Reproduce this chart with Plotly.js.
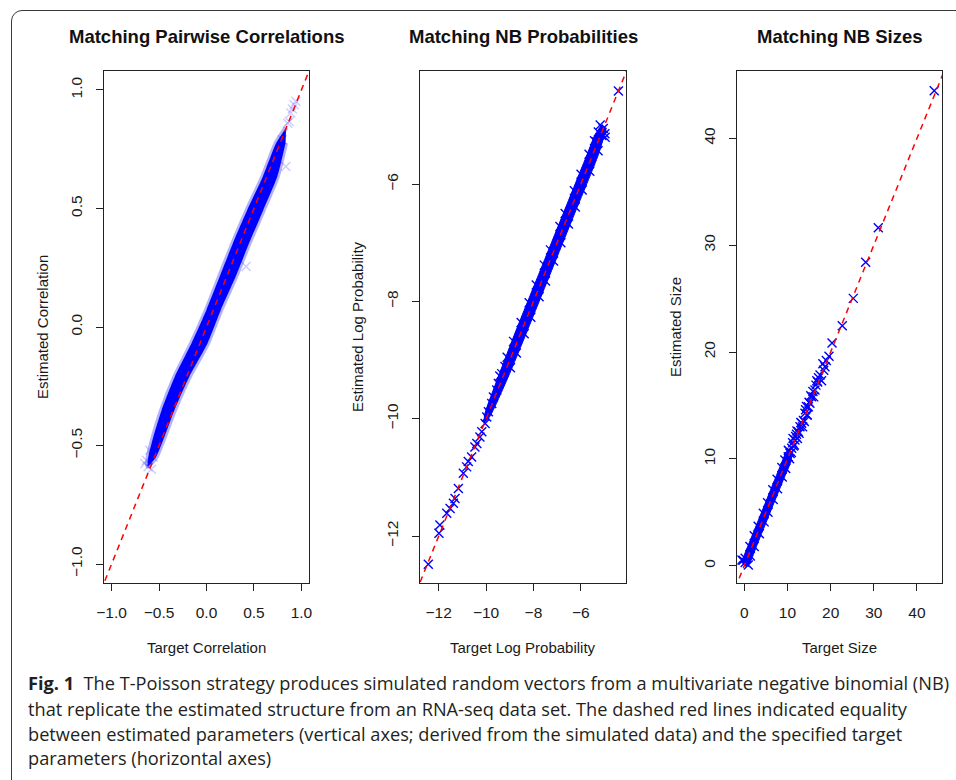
<!DOCTYPE html>
<html>
<head>
<meta charset="utf-8">
<script src="https://cdn.plot.ly/plotly-3.0.1.min.js"></script>
<style>
  html, body { margin:0; padding:0; background:#fff; overflow:hidden; }
  #frame { position:absolute; left:11px; top:10px; width:1000px; height:1000px; border:1.3px solid #3a3a3a; border-radius:11px; box-sizing:border-box; }
  #chart { position:absolute; left:0; top:0; width:956px; height:780px; }
</style>
</head>
<body>
<div id="frame"></div>
<div id="chart"></div>
<script>
// ---------- Panel 1: pairwise correlations ----------
const corrBandTarget   = [0.839,0.734,0.594,0.429,0.279,0.139,-0.001,-0.158,-0.334,-0.473,-0.560,-0.613,-0.619,-0.531,-0.443,-0.338,-0.181,0.011,0.151,0.308,0.449,0.599,0.746,0.833];
const corrBandEstimate = [0.841,0.776,0.635,0.494,0.354,0.213,0.072,-0.069,-0.210,-0.351,-0.463,-0.548,-0.587,-0.548,-0.463,-0.351,-0.210,-0.069,0.072,0.213,0.354,0.494,0.635,0.776];
const corrFaintTarget   = [0.923,0.941,0.889,0.871,0.905,0.855,0.836,0.800,0.417,-0.633,-0.616,-0.563,-0.598,-0.650,-0.580];
const corrFaintEstimate = [0.938,0.952,0.903,0.867,0.920,0.860,0.677,0.790,0.255,-0.562,-0.590,-0.548,-0.520,-0.576,-0.600];
const corrIdentity = [-1.2, 1.2];
const corrTicks = [-1, -0.5, 0, 0.5, 1];
const corrTickText = ["\u22121.0", "\u22120.5", "0.0", "0.5", "1.0"];

// ---------- Panel 2: NB log probabilities ----------
const probBandTarget   = [-5.10,-5.39,-5.74,-6.74,-7.74,-8.74,-9.50,-10.04,-10.08,-9.84,-9.08,-8.26,-7.26,-6.26,-5.26,-4.92];
const probBandEstimate = [-4.98,-5.15,-5.50,-6.50,-7.50,-8.50,-9.30,-9.90,-10.06,-9.96,-9.30,-8.50,-7.50,-6.50,-5.50,-5.04];
const probEdgeTarget   = [-5.42,-5.65,-5.99,-6.27,-6.66,-6.88,-7.28,-7.54,-7.88,-8.18,-8.52,-8.84,-9.11,-9.42,-4.98,-5.27,-5.62,-5.94,-6.23,-6.52,-6.84,-7.15,-7.49,-7.76,-8.11,-8.39,-8.72,-8.97];
const probEdgeEstimate = [-5.26,-5.49,-5.83,-6.11,-6.50,-6.72,-7.12,-7.38,-7.72,-8.02,-8.36,-8.68,-8.95,-9.27,-5.14,-5.43,-5.78,-6.10,-6.39,-6.68,-7.00,-7.31,-7.65,-7.92,-8.27,-8.55,-8.88,-9.13];
const probSparseTarget   = [-4.41,-5.26,-5.05,-5.11,-5.33,-4.97,-5.18,-12.44,-11.99,-11.95,-11.66,-11.52,-11.38,-11.31,-11.17,-10.96,-10.82,-10.75,-10.61,-10.47,-10.39,-10.26,-10.18,-10.04,-9.97,-9.90,-9.76,-9.69,-9.55,-9.48,-9.34,-9.20];
const probSparseEstimate = [-4.41,-5.11,-5.05,-5.17,-5.28,-5.20,-4.99,-12.48,-11.95,-11.81,-11.61,-11.53,-11.44,-11.36,-11.19,-10.93,-10.82,-10.73,-10.65,-10.48,-10.42,-10.31,-10.22,-10.08,-9.97,-9.88,-9.74,-9.63,-9.51,-9.40,-9.23,-9.11];
const probIdentity = [-14, -3];
const probTicks = [-12, -10, -8, -6];
const probTickText = ["\u221212", "\u221210", "\u22128", "\u22126"];

// ---------- Panel 3: NB sizes ----------
const sizeBandTarget   = [9.6, 7.7, 4.7, 1.7, -0.1, -0.6, 0.3, 1.2, 3.0, 6.0, 9.0, 10.9, 10.8];
const sizeBandEstimate = [10.6, 8.7, 5.7, 2.7, 0.9, 0.4, -0.05, 0.2, 2.0, 5.0, 8.0, 9.9, 10.5];
const sizeEdgeTarget   = [0.2,1.3,2.3,3.2,4.4,5.4,6.6,7.6,8.7,9.4,1.4,2.3,3.5,4.6,5.5,6.7,7.7,8.8,9.6,10.5,-0.6,0.93,0.2,-0.3];
const sizeEdgeEstimate = [0.7,1.8,2.8,3.7,4.9,5.9,7.1,8.1,9.2,9.9,0.9,1.8,3.0,4.1,5.0,6.2,7.2,8.3,9.1,10.0,0.53,0.07,0.3,0.5];
const sizeSparseTarget   = [44.0,31.04,28.12,25.25,22.70,20.32,19.62,18.69,17.54,16.38,15.61,14.83,14.06,13.30,12.51,11.74,10.98,10.19,18.2,17.0,16.8,15.2,14.4,13.7,12.9,12.1,11.4,10.6,10.2,11.3,12.3,13.9,14.6,15.9,17.9,10.4,10.9,11.2,11.6,11.9,12.2,12.7,13.1,13.5,14.2,14.5,15.0,15.4,16.1,16.6,17.2,18.4,19.0];
const sizeSparseEstimate = [44.45,31.63,28.39,25.02,22.46,20.84,19.60,18.62,17.85,16.44,15.82,14.88,14.26,13.33,12.54,11.76,10.99,10.20,18.9,17.2,17.3,15.2,14.9,13.6,13.0,12.3,11.2,10.5,10.8,11.9,11.9,13.5,14.1,16.3,17.3,10.7,10.6,11.5,11.3,12.1,12.6,12.4,13.4,13.0,14.6,14.1,15.3,15.9,15.8,16.9,17.6,18.3,19.2];
const sizeIdentity = [-5, 50];
const sizeTicks = [0, 10, 20, 30, 40];
const sizeTickText = ["0", "10", "20", "30", "40"];

// ---------- Text ----------
const panelTitles = ["Matching Pairwise Correlations", "Matching NB Probabilities", "Matching NB Sizes"];
const xTitles = ["Target Correlation", "Target Log Probability", "Target Size"];
const yTitles = ["Estimated Correlation", "Estimated Log Probability", "Estimated Size"];
const captionLines = [
  "<b>Fig. 1</b>\u00a0 The T-Poisson strategy produces simulated random vectors from a multivariate negative binomial (NB)",
  "that replicate the estimated structure from an RNA-seq data set. The dashed red lines indicated equality",
  "between estimated parameters (vertical axes; derived from the simulated data) and the specified target",
  "parameters (horizontal axes)"
];

// ---------- Geometry (pixels) ----------
const W = 956, H = 780;
const plotLeft = [104, 420, 737.3], plotRight = [309, 626, 942];
const plotTop = 71, plotBottom = 583;
const yTitleX = [42, 357, 675];

const BLUE = '#0000ff';
const xMarker = (c) => ({symbol:'x-thin', size:9, color:c, line:{color:c, width:1.4}});
const redLine = (arr, xa, ya) => ({x:arr, y:arr, xaxis:xa, yaxis:ya, mode:'lines', type:'scatter', hoverinfo:'skip',
  line:{color:'#ff0000', width:1.5, dash:'6px,5px'}});
const band = (xs, ys, xa, ya, edge) => ({x:xs, y:ys, xaxis:xa, yaxis:ya, mode:'lines', type:'scatter', fill:'toself',
  fillcolor:BLUE, line:Object.assign({shape:'spline', smoothing:0.6}, edge || {color:BLUE, width:1}), hoverinfo:'skip'});
const pts = (xs, ys, xa, ya, c) => ({x:xs, y:ys, xaxis:xa, yaxis:ya, mode:'markers', type:'scatter', marker:xMarker(c), hoverinfo:'skip'});

const data = [
  band(corrBandTarget, corrBandEstimate, 'x', 'y', {color:'rgba(0,0,255,0.3)', width:5}),
  pts(corrFaintTarget, corrFaintEstimate, 'x', 'y', 'rgba(0,0,255,0.2)'),
  redLine(corrIdentity, 'x', 'y'),

  band(probBandTarget, probBandEstimate, 'x2', 'y2'),
  pts(probEdgeTarget, probEdgeEstimate, 'x2', 'y2', BLUE),
  pts(probSparseTarget, probSparseEstimate, 'x2', 'y2', BLUE),
  redLine(probIdentity, 'x2', 'y2'),

  band(sizeBandTarget, sizeBandEstimate, 'x3', 'y3'),
  pts(sizeEdgeTarget, sizeEdgeEstimate, 'x3', 'y3', BLUE),
  pts(sizeSparseTarget, sizeSparseEstimate, 'x3', 'y3', BLUE),
  redLine(sizeIdentity, 'x3', 'y3')
];

const tickFont = {family:'Liberation Sans, Arial, Helvetica, sans-serif', size:15.5, color:'#1a1a1a'};
const baseAxis = {showline:true, mirror:true, linecolor:'#222', linewidth:1, ticks:'outside', ticklen:7,
  tickwidth:1, tickcolor:'#222', showgrid:false, zeroline:false, tickfont:tickFont, tickmode:'array', fixedrange:true};

function xAxis(i, range, vals, text, anchor) {
  return Object.assign({}, baseAxis, {domain:[plotLeft[i]/W, plotRight[i]/W], range:range, tickvals:vals, ticktext:text,
    anchor:anchor, ticklabelstandoff:8});
}
function yAxis(range, vals, text, anchor) {
  return Object.assign({}, baseAxis, {domain:[1-plotBottom/H, 1-plotTop/H], range:range, tickvals:vals, ticktext:text,
    anchor:anchor, tickangle:-90, ticklabelstandoff:8});
}

const annotations = [];
const labelFont = {family:'Liberation Sans, Arial, Helvetica, sans-serif', size:15, color:'#1a1a1a'};
for (let i = 0; i < 3; i++) {
  const cx = (plotLeft[i] + plotRight[i]) / 2 / W;
  annotations.push({text:'<b>' + panelTitles[i] + '</b>', xref:'paper', yref:'paper', x:cx, y:1-36/H,
    xanchor:'center', yanchor:'middle', showarrow:false, font:{family:'Liberation Sans, Arial, sans-serif', size:18.5, color:'#111'}});
  annotations.push({text:xTitles[i], xref:'paper', yref:'paper', x:cx, y:1-647/H,
    xanchor:'center', yanchor:'middle', showarrow:false, font:labelFont});
  annotations.push({text:yTitles[i], xref:'paper', yref:'paper', x:yTitleX[i]/W, y:1-((plotTop+plotBottom)/2)/H,
    xanchor:'center', yanchor:'middle', textangle:-90, showarrow:false, font:labelFont});
}
const captionY = [683, 709, 734, 758];
captionLines.forEach((t, k) => {
  annotations.push({text:t, xref:'paper', yref:'paper', x:26/W, y:1-captionY[k]/H, xanchor:'left', yanchor:'middle',
    showarrow:false, font:{family:'Open Sans, Noto Sans, sans-serif', size:18.2, color:'#231f20'}});
});

const layout = {
  width:W, height:H, margin:{l:0, r:0, t:0, b:0},
  paper_bgcolor:'rgba(0,0,0,0)', plot_bgcolor:'#fff', showlegend:false,
  xaxis:  xAxis(0, [-1.08, 1.08], corrTicks, corrTickText, 'y'),
  yaxis:  yAxis([-1.08, 1.08], corrTicks, corrTickText, 'x'),
  xaxis2: xAxis(1, [-12.79, -4.09], probTicks, probTickText, 'y2'),
  yaxis2: yAxis([-12.80, -4.07], probTicks, probTickText, 'x2'),
  xaxis3: xAxis(2, [-1.62, 45.8], sizeTicks, sizeTickText, 'y3'),
  yaxis3: yAxis([-1.62, 46.3], sizeTicks, sizeTickText, 'x3'),
  annotations:annotations
};

Plotly.newPlot('chart', data, layout, {displayModeBar:false, staticPlot:true});
</script>
</body>
</html>
